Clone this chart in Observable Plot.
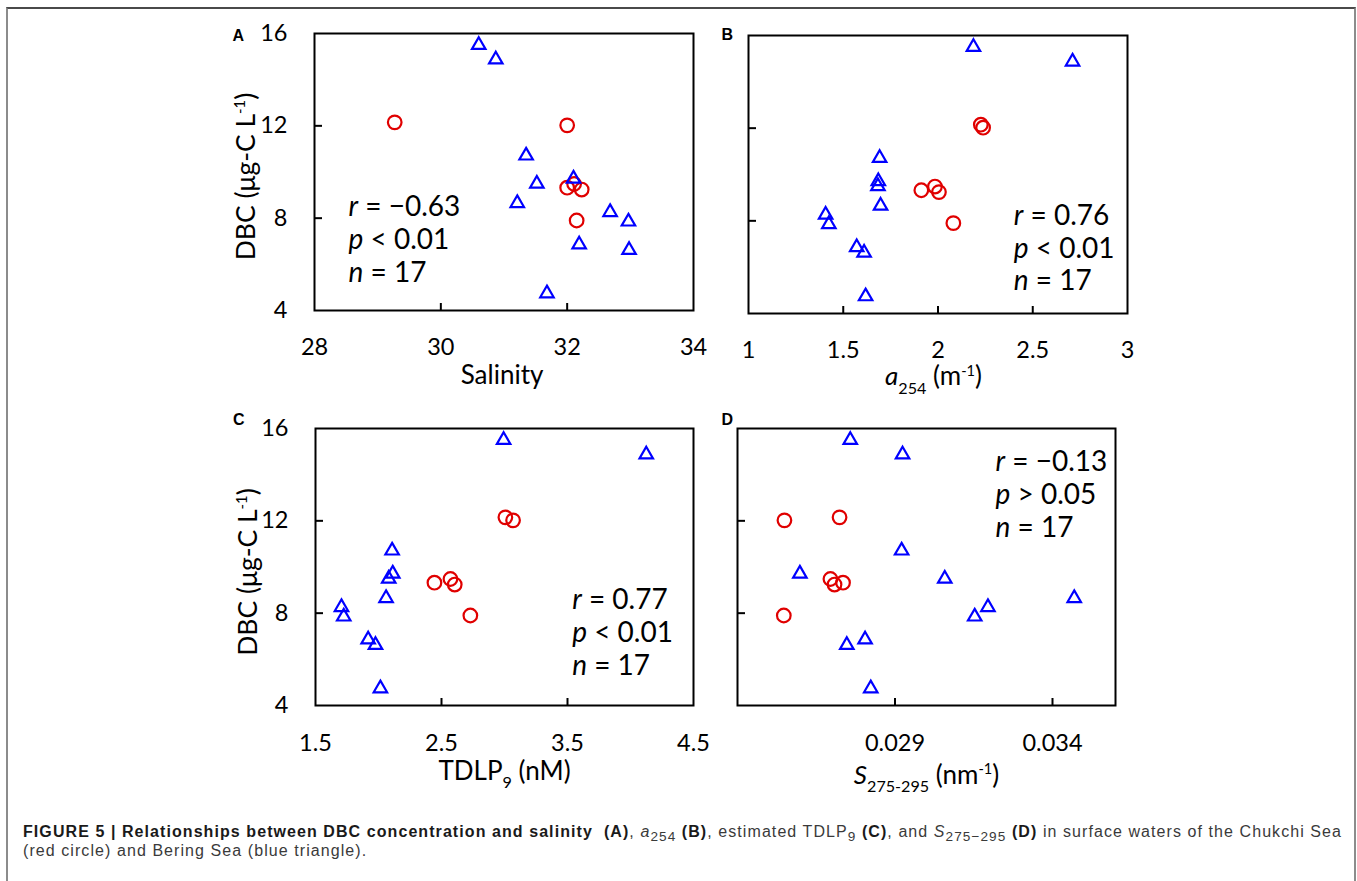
<!DOCTYPE html>
<html>
<head>
<meta charset="utf-8">
<script src="https://cdn.jsdelivr.net/npm/d3@7"></script>
<script src="https://cdn.jsdelivr.net/npm/@observablehq/plot@0.6"></script>
<style>
html, body { margin: 0; padding: 0; background: #fff; }
body { width: 1357px; height: 881px; position: relative; overflow: hidden; }
#border { position: absolute; left: 6px; top: 7px; width: 1350px; height: 900px; box-sizing: border-box;
  border: 2px solid #8c8c8c; border-top-color: #4a4a4a; border-bottom: none; }
.panel { position: absolute; }
#caption { position: absolute; left: 23px; top: 822px; font-family: "Liberation Sans", Arial, sans-serif;
  font-size: 16px; line-height: 19px; color: #3a3a3a; white-space: nowrap; }
#caption b { color: #1a1a1a; }
#caption sub { font-size: 0.85em; vertical-align: -0.3em; line-height: 0; }
</style>
</head>
<body>
<div id="border"></div>
<div id="pA" class="panel" style="left:200px;top:0px"></div>
<div id="pB" class="panel" style="left:700px;top:0px"></div>
<div id="pC" class="panel" style="left:200px;top:400px"></div>
<div id="pD" class="panel" style="left:700px;top:400px"></div>
<div id="caption"><span id="line1"><b>FIGURE 5 | Relationships between DBC concentration and salinity&nbsp; (A)</b>, <i>a</i><sub>254</sub> <b>(B)</b>, estimated TDLP<sub>9</sub> <b>(C)</b>, and <i>S</i><sub>275−295</sub> <b>(D)</b> in surface waters of the Chukchi Sea</span><br>(red circle) and Bering Sea (blue triangle).</div>
<script>
// ---------- data ----------
// DBC (µg-C L-1), shared by all four panels
const chukchiDBC = [12.15, 12.02, 9.32, 9.48, 9.24, 7.90];            // red circles
const beringDBC  = [15.50, 14.87, 10.71, 9.71, 9.49, 8.65, 8.26, 7.85, 6.86, 6.62, 4.74]; // blue triangles

// Panel A: salinity
const chukchiSalinity = [29.27, 32.00, 32.00, 32.11, 32.23, 32.15];
const beringSalinity  = [30.60, 30.87, 31.35, 32.10, 31.52, 31.21, 32.68, 32.97, 32.19, 32.98, 31.68];
// Panel B: a254 (m-1)
const chukchiA254 = [2.226, 2.238, 1.912, 1.984, 2.005, 2.081];
const beringA254  = [2.187, 2.710, 1.692, 1.685, 1.683, 1.697, 1.407, 1.424, 1.571, 1.610, 1.618];
// Panel C: TDLP9 (nM)
const chukchiTDLP9 = [3.007, 3.068, 2.444, 2.571, 2.605, 2.729];
const beringTDLP9  = [2.993, 4.125, 2.108, 2.113, 2.081, 2.060, 1.706, 1.724, 1.918, 1.976, 2.015];
// Panel D: S275-295 (nm-1)
const chukchiS = [0.02724, 0.02549, 0.02735, 0.02695, 0.02708, 0.02547];
const beringS  = [0.02758, 0.02924, 0.02921, 0.02598, 0.03058, 0.03469, 0.03195, 0.03153, 0.02805, 0.02747, 0.02823];

// tick values and labels
const yTickLabels = [4, 8, 12, 16];
const yTickMarks = [8, 12];
const xTicksA = [28, 30, 32, 34], xMarksA = [30, 32];
const xTicksB = [1, 1.5, 2, 2.5, 3], xMarksB = [1.5, 2, 2.5];
const xTicksC = [1.5, 2.5, 3.5, 4.5], xMarksC = [2.5, 3.5];
const xTicksD = [0.029, 0.034], xMarksD = [0.029, 0.034];

// statistics text
const statsA = ["r = −0.63", "p < 0.01", "n = 17"];
const statsB = ["r = 0.76", "p < 0.01", "n = 17"];
const statsC = ["r = 0.77", "p < 0.01", "n = 17"];
const statsD = ["r = −0.13", "p > 0.05", "n = 17"];

const yTitle = "DBC (μg-C L-1)";
const xTitleA = "Salinity", xTitleB = "a254 (m-1)", xTitleC = "TDLP9 (nM)", xTitleD = "S275-295 (nm-1)";

// ---------- styling ----------
const RED = "#e00000", BLUE = "#0000ff";
const FONT = "Lato, 'Open Sans', sans-serif";

const RICH = {
  "DBC (μg-C L-1)": [["DBC (μg-C L"], ["-1", "sup"], [")"]],
  "a254 (m-1)": [["a", "i"], ["254", "sub"], [" (m"], ["-1", "sup"], [")"]],
  "TDLP9 (nM)": [["TDLP"], ["9", "sub"], [" (nM)"]],
  "S275-295 (nm-1)": [["S", "i"], ["275-295", "sub"], [" (nm"], ["-1", "sup"], [")"]]
};

function enrich(svg) {
  d3.select(svg).selectAll("text").each(function () {
    const key = this.textContent;
    let segs = RICH[key];
    if (!segs && /^[rpn] [=<>]/.test(key)) segs = [[key[0], "i"], [key.slice(1)]];
    if (!segs) return;
    const fs = parseFloat(getComputedStyle(this).fontSize);
    const sel = d3.select(this).text(null);
    let cur = 0;
    for (const [s, k] of segs) {
      const target = k === "sub" ? 0.33 * fs : k === "sup" ? -0.36 * fs : 0;
      const ts = sel.append("tspan").text(s);
      if (target !== cur) { ts.attr("dy", target - cur); cur = target; }
      if (k === "sub") ts.attr("font-size", fs * 0.62);
      if (k === "sup") ts.attr("font-size", fs * 0.56);
      if (k === "i") ts.attr("font-style", "italic");
    }
  });
}

function panel(o) {
  const plotW = o.width - o.mL - o.mR, plotH = o.height - o.mT - o.mB;
  const marks = [
    Plot.frame({stroke: "black", strokeWidth: 2}),
    Plot.tickX(o.xMarks, {x: d => d, insetTop: plotH - 7, stroke: "black", strokeWidth: 2}),
    Plot.tickY(yTickMarks, {y: d => d, insetRight: plotW - 8, stroke: "black", strokeWidth: 2}),
    Plot.axisX(o.xTicks, {anchor: "bottom", tickSize: 0, tickPadding: o.xPad, fontSize: 23.5, tickFormat: d => String(d), label: null}),
    o.yLabels ? Plot.axisY(yTickLabels, {anchor: "left", tickSize: 0, tickPadding: 27, fontSize: 23.5, tickFormat: d => String(d), label: null}) : null,
    Plot.dot(chukchiDBC, {x: o.xRed, y: chukchiDBC, symbol: "circle", r: 6.8, stroke: RED, strokeWidth: 2.2, fill: "none"}),
    Plot.dot(beringDBC, {x: o.xBlue, y: beringDBC, symbol: "triangle", r: 5, stroke: BLUE, strokeWidth: 2.2, fill: "none"}),
    Plot.text([o.xTitle], {text: d => d, frameAnchor: "bottom", textAnchor: "middle", lineAnchor: "bottom", dx: o.xtDx, dy: o.xtDy, fontSize: 26}),
    o.yLabels ? Plot.text([yTitle], {text: d => d, frameAnchor: "left", textAnchor: "middle", rotate: -90, lineAnchor: "bottom", dx: o.ytDx, dy: o.ytDy, fontSize: 26.5}) : null,
    Plot.text([o.letter], {text: d => d, frameAnchor: "top-left", textAnchor: "middle", lineAnchor: "middle", dx: o.lDx, dy: o.lDy, fontFamily: "'Liberation Sans', Arial, sans-serif", fontWeight: "bold", fontSize: 16}),
    ...o.stats.map((s, k) => Plot.text([s], {text: d => d, frameAnchor: "top-left", textAnchor: "start", lineAnchor: "bottom", dx: o.sDx, dy: o.sDy[k], fontSize: 28}))
  ].filter(Boolean);
  const svg = Plot.plot({
    width: o.width, height: o.height,
    marginLeft: o.mL, marginRight: o.mR, marginTop: o.mT, marginBottom: o.mB,
    x: {domain: o.xDomain, label: null, axis: null},
    y: {domain: [4, 16], label: null, axis: null},
    style: {background: "transparent", fontFamily: FONT, color: "black", overflow: "visible"},
    marks
  });
  document.getElementById(o.el).appendChild(svg);
  enrich(svg);
}

panel({el: "pA", width: 520, height: 400, mL: 114, mR: 27, mT: 33, mB: 90,
  xDomain: [28, 34], xTicks: xTicksA, xMarks: xMarksA, xPad: 28, yLabels: true,
  xRed: chukchiSalinity, xBlue: beringSalinity,
  xTitle: xTitleA, xtDx: -2, xtDy: 73, ytDx: -59.7, ytDy: 4.5,
  letter: "A", lDx: -76.3, lDy: 2.3,
  stats: statsA, sDx: 34, sDy: [182.7, 215.3, 248.7]});

panel({el: "pB", width: 460, height: 400, mL: 48, mR: 33, mT: 35, mB: 87,
  xDomain: [1, 3], xTicks: xTicksB, xMarks: xMarksB, xPad: 28, yLabels: false,
  xRed: chukchiA254, xBlue: beringA254,
  xTitle: xTitleB, xtDx: -4.5, xtDy: 71.5,
  letter: "B", lDx: -21.3, lDy: -0.5,
  stats: statsB, sDx: 265.3, sDy: [189, 222.3, 254.3]});

panel({el: "pC", width: 520, height: 400, mL: 115, mR: 27, mT: 28, mB: 95,
  xDomain: [1.5, 4.5], xTicks: xTicksC, xMarks: xMarksC, xPad: 29, yLabels: true,
  xRed: chukchiTDLP9, xBlue: beringTDLP9,
  xTitle: xTitleC, xtDx: 0, xtDy: 74, ytDx: -59, ytDy: 5,
  letter: "C", lDx: -76.7, lDy: -9,
  stats: statsC, sDx: 256.7, sDy: [180.3, 213.7, 246]});

panel({el: "pD", width: 460, height: 400, mL: 37, mR: 45, mT: 28, mB: 95,
  xDomain: [0.024, 0.036], xTicks: xTicksD, xMarks: xMarksD, xPad: 29, yLabels: false,
  xRed: chukchiS, xBlue: beringS,
  xTitle: xTitleD, xtDx: 0, xtDy: 78,
  letter: "D", lDx: -10.3, lDy: -9,
  stats: statsD, sDx: 258, sDy: [42, 75.3, 108]});

// stretch the first caption line to the reference width
const line1 = document.getElementById("line1");
const target = 1319;
const w0 = line1.getBoundingClientRect().width;
const nChars = line1.textContent.length;
document.getElementById("caption").style.letterSpacing = ((target - w0) / nChars) + "px";
</script>
</body>
</html>
